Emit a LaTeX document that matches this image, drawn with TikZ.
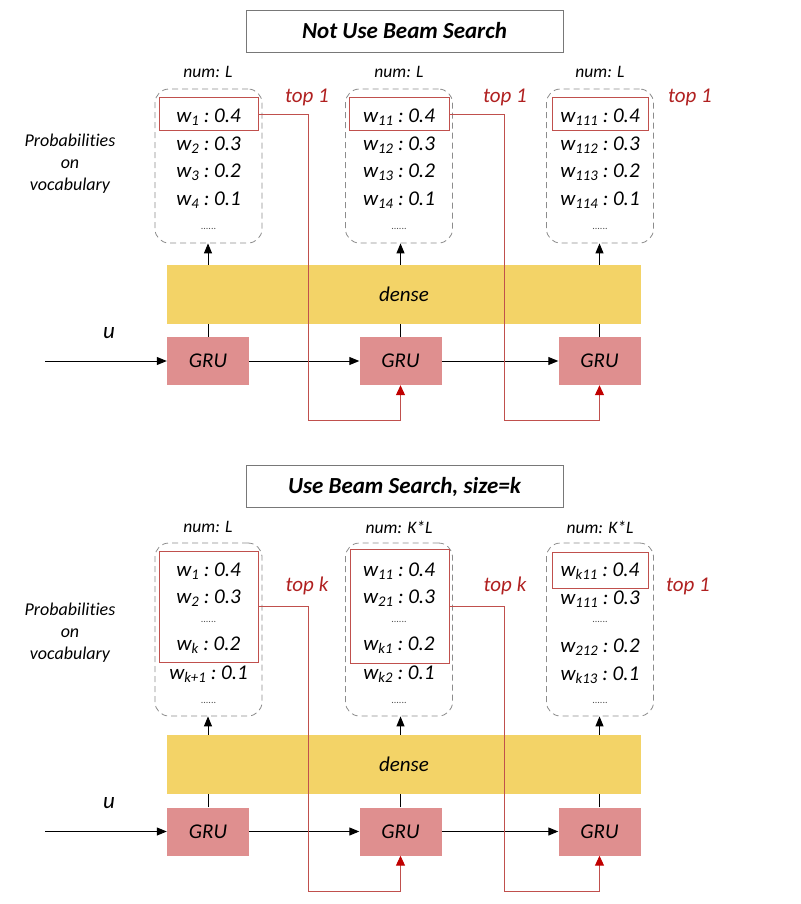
\documentclass[tikz,border=0pt]{standalone}
\usepackage{fontspec}
\setmainfont[Ligatures=NoCommon]{Carlito}
\usetikzlibrary{arrows.meta}
\definecolor{densey}{RGB}{243,211,103}
\definecolor{grupink}{RGB}{223,143,143}
\definecolor{redline}{RGB}{192,80,77}
\definecolor{redtip}{RGB}{192,0,0}
\definecolor{redtext}{RGB}{176,32,32}
\definecolor{dashgray}{RGB}{140,140,140}
\definecolor{titlegray}{RGB}{120,120,120}
\newcommand{\wrow}[2]{w\textsubscript{#1}\hspace{0.22em}:\hspace{0.22em}#2}
\begin{document}
\begin{tikzpicture}[x=1pt,y=-1pt,
  titlebox/.style={draw=titlegray, line width=0.8pt, minimum width=317pt, minimum height=42pt, inner sep=0pt, font=\bfseries\itshape\fontsize{23}{26}\selectfont},
  probbox/.style={draw=dashgray, dash pattern=on 6pt off 4pt, rounded corners=14pt, line width=0.8pt, minimum width=107pt, inner sep=0pt},
  selbox/.style={draw=redline, line width=1pt, inner sep=0pt},
  rowtext/.style={font=\itshape\fontsize{21}{24}\selectfont, inner sep=0pt},
  dotstext/.style={font=\fontsize{10}{11}\selectfont, inner sep=0pt, text=black!70},
  numlabel/.style={font=\itshape\fontsize{17.5}{20}\selectfont, inner sep=0pt},
  toplabel/.style={text=redtext, font=\itshape\fontsize{21}{24}\selectfont, inner sep=0pt},
  sidelabel/.style={font=\itshape\fontsize{18}{22}\selectfont, align=center, inner sep=0pt},
  denseband/.style={fill=densey, minimum width=474pt, minimum height=59pt, inner sep=0pt, font=\itshape\fontsize{21}{24}\selectfont},
  grubox/.style={fill=grupink, minimum width=82pt, minimum height=48pt, inner sep=0pt, font=\itshape\fontsize{21}{24}\selectfont},
  blackarrow/.style={-{Triangle[length=10pt,width=8pt]}, line width=1pt},
  plainline/.style={line width=1pt},
  redpath/.style={draw=redline, line width=1pt, -{Triangle[length=10pt,width=9pt,color=redtip]}}
]
\useasboundingbox (0,0) rectangle (800,904);

% ================= TOP HALF =================
\node[titlebox] (title1) at (404.5,31) {Not Use Beam Search};

\node[numlabel] (n1) at (208,72) {num: L};
\node[numlabel] (n2) at (399,72) {num: L};
\node[numlabel] (n3) at (600,72) {num: L};

\node[sidelabel] (prob1) at (70,164) {Probabilities\\on\\vocabulary};

\node[probbox, minimum height=154pt] (pb1) at (208.5,166) {};
\node[probbox, minimum height=154pt] (pb2) at (399,166) {};
\node[probbox, minimum height=154pt] (pb3) at (600,166) {};

\node[selbox, minimum width=99pt, minimum height=33pt] (sel1) at (208.5,114.5) {};
\node[selbox, minimum width=100pt, minimum height=33pt] (sel2) at (399,114.5) {};
\node[selbox, minimum width=96pt, minimum height=33pt] (sel3) at (600,114.5) {};

\node[rowtext] (a1) at (208.5,117) {\wrow{1}{0.4}};
\node[rowtext] (a2) at (208.5,145) {\wrow{2}{0.3}};
\node[rowtext] (a3) at (208.5,172) {\wrow{3}{0.2}};
\node[rowtext] (a4) at (208.5,200) {\wrow{4}{0.1}};
\node[dotstext] (a5) at (208.5,229) {......};

\node[rowtext] (b1) at (399,117) {\wrow{11}{0.4}};
\node[rowtext] (b2) at (399,145) {\wrow{12}{0.3}};
\node[rowtext] (b3) at (399,172) {\wrow{13}{0.2}};
\node[rowtext] (b4) at (399,200) {\wrow{14}{0.1}};
\node[dotstext] (b5) at (399,229) {......};

\node[rowtext] (c1) at (600,117) {\wrow{111}{0.4}};
\node[rowtext] (c2) at (600,145) {\wrow{112}{0.3}};
\node[rowtext] (c3) at (600,172) {\wrow{113}{0.2}};
\node[rowtext] (c4) at (600,200) {\wrow{114}{0.1}};
\node[dotstext] (c5) at (600,229) {......};

\node[toplabel] (t1) at (307,97) {top 1};
\node[toplabel] (t2) at (505,97) {top 1};
\node[toplabel] (t3) at (690,97) {top 1};

\node[denseband] (dense1) at (404,294.5) {dense};

\node[grubox] (g1) at (208,361) {GRU};
\node[grubox] (g2) at (400.5,361) {GRU};
\node[grubox] (g3) at (599.5,361) {GRU};

\node[font=\itshape\fontsize{23}{26}\selectfont, inner sep=0pt] (u1) at (109,333) {u};
\coordinate (in1) at (45,361);
\draw[blackarrow] (in1) -- (g1.west);
\draw[blackarrow] (g1.east) -- (g2.west);
\draw[blackarrow] (g2.east) -- (g3.west);

\draw[plainline] (g1.north) -- (g1.north |- dense1.south);
\draw[plainline] (g2.north) -- (g2.north |- dense1.south);
\draw[plainline] (g3.north) -- (g3.north |- dense1.south);
\draw[blackarrow] (g1.north |- dense1.north) -- (g1.north |- pb1.south);
\draw[blackarrow] (g2.north |- dense1.north) -- (g2.north |- pb2.south);
\draw[blackarrow] (g3.north |- dense1.north) -- (g3.north |- pb3.south);

\coordinate (k1) at (308,420);
\coordinate (k2) at (504,420);
\draw[redpath] (sel1.east) -| (k1) -| (g2.south);
\draw[redpath] (sel2.east) -| (k2) -| (g3.south);

% ================= BOTTOM HALF =================
\node[titlebox] (title2) at (404.5,486.5) {Use Beam Search, size=k};

\node[numlabel] (m1) at (208,527) {num: L};
\node[numlabel] (m2) at (399,527) {num: K*L};
\node[numlabel] (m3) at (600,527) {num: K*L};

\node[sidelabel] (prob2) at (70,633) {Probabilities\\on\\vocabulary};

\node[probbox, minimum height=173pt] (qb1) at (208.5,629.5) {};
\node[probbox, minimum height=173pt] (qb2) at (399,629.5) {};
\node[probbox, minimum height=173pt] (qb3) at (600,629.5) {};

\node[selbox, minimum width=99pt, minimum height=111pt] (sel4) at (208.5,606.5) {};
\node[selbox, minimum width=99pt, minimum height=114pt] (sel5) at (399.5,606) {};
\node[selbox, minimum width=96pt, minimum height=36pt] (sel6) at (600,570) {};

\node[rowtext] (d1) at (208.5,571) {\wrow{1}{0.4}};
\node[rowtext] (d2) at (208.5,598) {\wrow{2}{0.3}};
\node[dotstext] (d3) at (208.5,622) {......};
\node[rowtext] (d4) at (208.5,645) {\wrow{k}{0.2}};
\node[rowtext] (d5) at (208.5,674) {\wrow{k+1}{0.1}};
\node[dotstext] (d6) at (208.5,703) {......};

\node[rowtext] (e1) at (399,571) {\wrow{11}{0.4}};
\node[rowtext] (e2) at (399,598) {\wrow{21}{0.3}};
\node[dotstext] (e3) at (399,622) {......};
\node[rowtext] (e4) at (399,645) {\wrow{k1}{0.2}};
\node[rowtext] (e5) at (399,674) {\wrow{k2}{0.1}};
\node[dotstext] (e6) at (399,703) {......};

\node[rowtext] (f1) at (600,571) {\wrow{k11}{0.4}};
\node[rowtext] (f2) at (600,599) {\wrow{111}{0.3}};
\node[dotstext] (f3) at (600,622) {......};
\node[rowtext] (f4) at (600,647) {\wrow{212}{0.2}};
\node[rowtext] (f5) at (600,675) {\wrow{k13}{0.1}};
\node[dotstext] (f6) at (600,703) {......};

\node[toplabel] (t4) at (307,586) {top k};
\node[toplabel] (t5) at (505,586) {top k};
\node[toplabel] (t6) at (688,586) {top 1};

\node[denseband] (dense2) at (404,764.5) {dense};

\node[grubox] (h1) at (208,831.5) {GRU};
\node[grubox] (h2) at (400.5,831.5) {GRU};
\node[grubox] (h3) at (599.5,831.5) {GRU};

\node[font=\itshape\fontsize{23}{26}\selectfont, inner sep=0pt] (u2) at (109,803) {u};
\coordinate (in2) at (45,831.5);
\draw[blackarrow] (in2) -- (h1.west);
\draw[blackarrow] (h1.east) -- (h2.west);
\draw[blackarrow] (h2.east) -- (h3.west);

\draw[plainline] (h1.north) -- (h1.north |- dense2.south);
\draw[plainline] (h2.north) -- (h2.north |- dense2.south);
\draw[plainline] (h3.north) -- (h3.north |- dense2.south);
\draw[blackarrow] (h1.north |- dense2.north) -- (h1.north |- qb1.south);
\draw[blackarrow] (h2.north |- dense2.north) -- (h2.north |- qb2.south);
\draw[blackarrow] (h3.north |- dense2.north) -- (h3.north |- qb3.south);

\coordinate (k3) at (308,891);
\coordinate (k4) at (504,891);
\draw[redpath] (sel4.east) -| (k3) -| (h2.south);
\draw[redpath] (sel5.east) -| (k4) -| (h3.south);
\end{tikzpicture}
\end{document}
